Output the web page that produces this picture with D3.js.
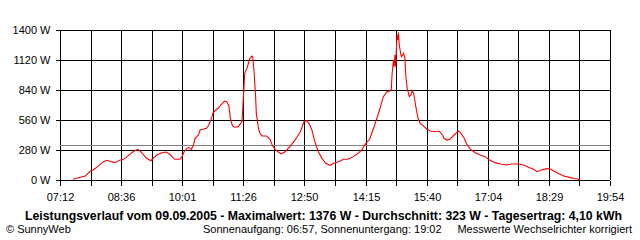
<!DOCTYPE html>
<html>
<head>
<meta charset="utf-8">
<script src="https://cdn.jsdelivr.net/npm/d3@7"></script>
<style>
  body { margin: 0; background: #fff; }
  svg { display: block; font-family: "Liberation Sans", Arial, sans-serif; }
  .axis text { font-size: 11px; fill: #000; }
  .axis line { stroke: #000; }
  .axis path { display: none; }
</style>
</head>
<body>
<div id="graph_container"></div>
<script>
// measured power (W) at time of day
const times = [
  '07:30', '07:40', '07:47', '07:54', '07:58', '08:05', '08:12', '08:17', '08:24', '08:28',
  '08:35', '08:40', '08:47', '08:54', '09:00', '09:05', '09:12', '09:18', '09:21', '09:26',
  '09:33', '09:39', '09:44', '09:51', '09:58', '10:01', '10:04', '10:07', '10:10', '10:14',
  '10:17', '10:19', '10:24', '10:26', '10:30', '10:35', '10:38', '10:42', '10:44', '10:49',
  '10:51', '10:56', '11:00', '11:03', '11:06', '11:08', '11:11', '11:14', '11:19', '11:23',
  '11:24', '11:25', '11:26', '11:28', '11:31', '11:33', '11:35', '11:38', '11:39', '11:41',
  '11:43', '11:44', '11:47', '11:49', '11:52', '11:58', '12:03', '12:06', '12:10', '12:14',
  '12:18', '12:24', '12:31', '12:37', '12:45', '12:50', '12:54', '12:57', '13:01', '13:05',
  '13:10', '13:15', '13:20', '13:26', '13:31', '13:38', '13:45', '13:51', '13:58', '14:05',
  '14:10', '14:15', '14:21', '14:28', '14:35', '14:40', '14:45', '14:49', '14:51', '14:52',
  '14:54', '14:55', '14:56', '14:57', '14:58', '14:59', '15:00', '15:01', '15:02', '15:04',
  '15:05', '15:08', '15:10', '15:11', '15:13', '15:16', '15:18', '15:20', '15:22', '15:25',
  '15:28', '15:31', '15:35', '15:40', '15:45', '15:52', '15:57', '16:02', '16:04', '16:08',
  '16:12', '16:18', '16:24', '16:27', '16:32', '16:36', '16:41', '16:47', '16:54', '17:01',
  '17:07', '17:15', '17:22', '17:31', '17:38', '17:47', '17:54', '18:01', '18:08', '18:13',
  '18:19', '18:26', '18:32', '18:38', '18:44', '18:50', '18:59', '19:06', '19:12'
];
const watts = [
  7, 25, 37, 84, 93, 130, 171, 184, 171, 162,
  184, 193, 230, 268, 286, 255, 202, 180, 202, 233,
  255, 261, 240, 193, 193, 218, 264, 290, 305, 286,
  327, 389, 420, 467, 473, 482, 513, 576, 628, 660,
  669, 709, 737, 731, 691, 576, 504, 492, 498, 535,
  545, 640, 770, 996, 1042, 1089, 1136, 1157, 1151, 1001,
  778, 622, 482, 436, 411, 411, 380, 327, 286, 264,
  243, 264, 317, 367, 451, 544, 554, 529, 467, 358,
  264, 202, 156, 137, 156, 171, 193, 193, 218, 249,
  280, 335, 380, 513, 660, 778, 824, 831, 840, 980,
  1120, 1058, 1167, 1058, 1213, 1353, 1307, 1376, 1260, 1182,
  1151, 1182, 1136, 980, 856, 778, 793, 831, 809, 684,
  576, 529, 507, 476, 457, 451, 457, 420, 389, 373,
  380, 420, 457, 442, 389, 327, 286, 255, 233, 218,
  187, 162, 149, 140, 149, 149, 140, 118, 100, 78,
  93, 106, 100, 78, 56, 37, 22, 12, 6
];
const average = 323;
const xTickLabels = ['07:12', '08:36', '10:01', '11:26', '12:50', '14:15', '15:40', '17:04', '18:29', '19:54'];
const yTicks = [0, 280, 560, 840, 1120, 1400];

const titleText = 'Leistungsverlauf vom 09.09.2005 - Maximalwert: 1376 W - Durchschnitt: 323 W - Tagesertrag: 4,10 kWh';
const footLeft = '\u00a9 SunnyWeb';
const footMid = 'Sonnenaufgang: 06:57, Sonnenuntergang: 19:02';
const footRight = 'Messwerte Wechselrichter korrigiert';

const toMin = s => { const p = s.split(':'); return +p[0] * 60 + +p[1]; };
const data = times.map((t, i) => ({t: toMin(t), w: watts[i]}));

const width = 640, height = 240;
const plot = {left: 60, right: 610, top: 30, bottom: 180};

const svg = d3.select('#graph_container').append('svg')
  .attr('width', width)
  .attr('height', height);

const tStart = toMin(xTickLabels[0]);
const tEnd = toMin(xTickLabels[xTickLabels.length - 1]);
const x = d3.scaleLinear().domain([tStart, tEnd]).range([plot.left, plot.right]);
const y = d3.scaleLinear().domain([0, 1400]).range([plot.bottom, plot.top]);

// one grid line between every labelled tick
const nSteps = 2 * (xTickLabels.length - 1);
const gridTimes = d3.range(nSteps + 1).map(k => tStart + k * (tEnd - tStart) / nSteps);

const px = v => Math.round(v) + 0.5;

/* ------- grid -------*/
const grid = svg.append('g').attr('shape-rendering', 'crispEdges')
  .attr('stroke', '#000').attr('stroke-width', 1);
grid.selectAll('.vline').data(gridTimes).enter().append('line')
  .attr('x1', d => px(x(d))).attr('x2', d => px(x(d)))
  .attr('y1', plot.top).attr('y2', plot.bottom);
grid.selectAll('.hline').data(yTicks).enter().append('line')
  .attr('x1', plot.left).attr('x2', plot.right)
  .attr('y1', d => px(y(d))).attr('y2', d => px(y(d)));

/* ------- axes -------*/
svg.append('g').attr('class', 'axis')
  .attr('shape-rendering', 'crispEdges')
  .attr('transform', `translate(${px(plot.left)},0)`)
  .call(d3.axisLeft(y).tickValues(yTicks).tickSize(5).tickPadding(5)
    .tickFormat(d => d + ' W'))
  .selectAll('.tick').attr('transform', d => `translate(0,${px(y(d))})`);

svg.append('g').attr('class', 'axis')
  .attr('shape-rendering', 'crispEdges')
  .attr('transform', `translate(0,${px(plot.bottom)})`)
  .call(d3.axisBottom(x).tickValues(gridTimes).tickSize(5).tickPadding(8)
    .tickFormat((d, i) => i % 2 === 0 ? xTickLabels[i / 2] : ''))
  .selectAll('.tick').attr('transform', d => `translate(${px(x(d))},0)`);

/* ------- average line -------*/
svg.append('line')
  .attr('shape-rendering', 'crispEdges')
  .attr('x1', plot.left).attr('x2', plot.right)
  .attr('y1', px(y(average))).attr('y2', px(y(average)))
  .attr('stroke', '#808080');

/* ------- power line -------*/
const line = d3.line().x(d => x(d.t)).y(d => y(d.w));
svg.append('path')
  .datum(data)
  .attr('d', line)
  .attr('fill', 'none')
  .attr('stroke', '#ff0000')
  .attr('stroke-width', 1.1);

/* ------- texts -------*/
// title width taken from the reference, so it spans the same room
svg.append('text')
  .attr('x', 25).attr('y', 220)
  .attr('textLength', 597).attr('lengthAdjust', 'spacingAndGlyphs')
  .style('font-size', '12px').style('font-weight', 'bold')
  .text(titleText);
svg.append('text').attr('x', 6).attr('y', 233).style('font-size', '11px').text(footLeft);
svg.append('text').attr('x', 203).attr('y', 233).style('font-size', '11px').text(footMid);
svg.append('text').attr('x', 632).attr('y', 233).attr('text-anchor', 'end')
  .style('font-size', '11px').text(footRight);
</script>
</body>
</html>
